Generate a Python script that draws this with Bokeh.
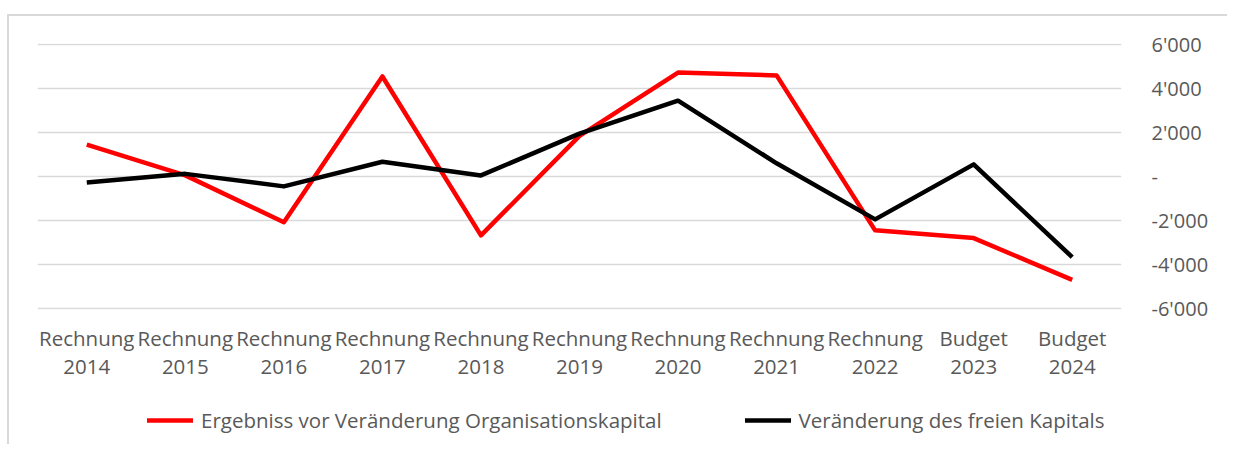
from bokeh.plotting import figure
from bokeh.layouts import column
from bokeh.models import FactorRange, Range1d, FixedTicker, Legend, LegendItem
from bokeh.embed import file_html
from bokeh.resources import INLINE

categories = ["Rechnung\n2014", "Rechnung\n2015", "Rechnung\n2016", "Rechnung\n2017",
              "Rechnung\n2018", "Rechnung\n2019", "Rechnung\n2020", "Rechnung\n2021",
              "Rechnung\n2022", "Budget\n2023", "Budget\n2024"]
ergebnis = [1450, 50, -2080, 4550, -2680, 1850, 4730, 4600, -2450, -2800, -4700]
freies_kapital = [-270, 120, -450, 670, 50, 1950, 3450, 600, -1950, 550, -3670]
y_ticks = [-6000, -4000, -2000, 0, 2000, 4000, 6000]
y_labels = ["-6'000", "-4'000", "-2'000", "-", "2'000", "4'000", "6'000"]
series_names = ["Ergebniss vor Veränderung Organisationskapital", "Veränderung des freien Kapitals"]
series_colors = ["#ff0000", "#000000"]

FONT = "Open Sans"
TXT = "#595959"
GRID = "#d9d9d9"

# ---- main chart ----
p = figure(width=1227, height=385, x_range=FactorRange(*categories),
           y_range=Range1d(-6050, 6050), output_backend="svg", toolbar_location=None,
           y_axis_location="right", min_border_left=37, min_border_top=43,
           min_border_right=106, min_border_bottom=76)
p.border_fill_color = None
p.background_fill_color = None
p.outline_line_color = None
p.styles = {
    "background": "linear-gradient(#d9d9d9, #d9d9d9) 7px 14px / 100% 2px no-repeat, "
                  "linear-gradient(#d9d9d9, #d9d9d9) 7px 14px / 2px 100% no-repeat, #ffffff"
}
p.x_range.range_padding = 0.0

p.line(categories, ergebnis, line_color=series_colors[0], line_width=4.5, line_join="round")
p.line(categories, freies_kapital, line_color=series_colors[1], line_width=4.5, line_join="round")

p.xgrid.grid_line_color = None
p.ygrid.grid_line_color = GRID
p.ygrid.grid_line_width = 1.5
p.ygrid.ticker = FixedTicker(ticks=y_ticks)

ya = p.yaxis[0]
ya.ticker = FixedTicker(ticks=y_ticks)
ya.major_label_overrides = {t: l for t, l in zip(y_ticks, y_labels)}
ya.axis_line_color = None
ya.major_tick_line_color = None
ya.minor_tick_line_color = None
ya.major_label_text_font = FONT
ya.major_label_text_font_size = "20px"
ya.major_label_text_color = TXT
ya.major_label_standoff = 24

xa = p.xaxis[0]
xa.axis_line_color = None
xa.major_tick_line_color = None
xa.major_label_text_font = FONT
xa.major_label_text_font_size = "20.5px"
xa.major_label_text_color = TXT
xa.major_label_text_line_height = 1.0
xa.major_label_standoff = 8

# ---- legend strip ----
pl = figure(width=1227, height=59, x_range=Range1d(0, 1), y_range=Range1d(0, 1),
            output_backend="svg", toolbar_location=None,
            x_axis_location=None, y_axis_location=None,
            min_border_left=0, min_border_right=0, min_border_top=0, min_border_bottom=0)
pl.border_fill_color = None
pl.background_fill_color = None
pl.outline_line_color = None
pl.grid.grid_line_color = None
pl.styles = {
    "background": "linear-gradient(#d9d9d9, #d9d9d9) 7px 0px / 2px 100% no-repeat, #ffffff"
}
nan = float("nan")
d1 = pl.line(x=[nan], y=[nan], line_color=series_colors[0], line_width=4.5, line_cap="round")
d2 = pl.line(x=[nan], y=[nan], line_color=series_colors[1], line_width=4.5, line_cap="round")

legend = Legend(items=[LegendItem(label=series_names[0], renderers=[d1]),
                       LegendItem(label=series_names[1], renderers=[d2])],
                orientation="horizontal", location=(110, 10),
                label_text_font=FONT, label_text_font_size="20.5px", label_text_color=TXT,
                glyph_width=46, label_standoff=8, spacing=83, border_line_color=None,
                background_fill_color=None, margin=0, padding=0)
pl.add_layout(legend, "center")

layout = column(p, pl, spacing=0)
open("out.html", "w").write(file_html(layout, INLINE))
